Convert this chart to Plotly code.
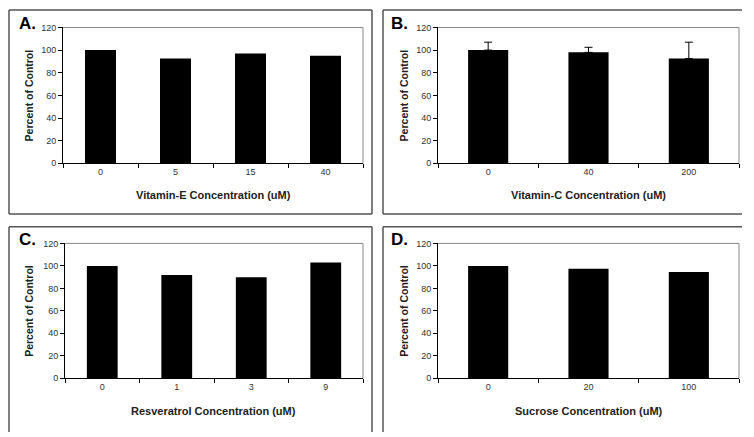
import plotly.graph_objects as go

W, H = 754, 437

# Data
cats_a = ["0", "5", "15", "40"]
vals_a = [100, 92.5, 97, 95]

cats_b = ["0", "40", "200"]
vals_b = [100, 98, 92.5]
err_b = [7, 4.5, 14.5]

cats_c = ["0", "1", "3", "9"]
vals_c = [100, 92, 90, 103]

cats_d = ["0", "20", "100"]
vals_d = [100, 97.5, 94.5]

panel_labels = ["A.", "B.", "C.", "D."]
x_titles = ["Vitamin-E Concentration (uM)", "Vitamin-C Concentration (uM)",
            "Resveratrol Concentration (uM)", "Sucrose Concentration (uM)"]
y_title = "Percent of Control"
y_ticks = [0, 20, 40, 60, 80, 100, 120]

FONT = "Liberation Sans, Arial, sans-serif"

# plot areas in pixels: (x0, x1, ytop, ybottom)
areas = [
    (63, 363, 23, 162),
    (438, 739, 23, 162),
    (65, 363, 244, 382),
    (438, 739, 244, 382),
]
panels = [(cats_a, vals_a, None), (cats_b, vals_b, err_b),
          (cats_c, vals_c, None), (cats_d, vals_d, None)]

fig = go.Figure()
layout = dict(width=W, height=H, margin=dict(l=0, r=0, t=0, b=0),
              paper_bgcolor="white", plot_bgcolor="white", showlegend=False,
              font=dict(family=FONT, color="#222"))

annotations = []
shapes = []

for i, ((cats, vals, err), (x0, x1, yt, yb)) in enumerate(zip(panels, areas)):
    n = i + 1
    xa = "x" if n == 1 else f"x{n}"
    ya = "y" if n == 1 else f"y{n}"
    bw = 40 / 100 if len(cats) == 3 else 31 / 75
    kw = {}
    if err is not None:
        kw["error_y"] = dict(type="data", array=err, arrayminus=[0] * len(err),
                             symmetric=False, color="black", thickness=1, width=4)
    fig.add_trace(go.Bar(x=cats, y=vals, xaxis=xa, yaxis=ya,
                         marker=dict(color="black", line=dict(width=0)),
                         width=bw, **kw))
    xkey = "xaxis" if n == 1 else f"xaxis{n}"
    ykey = "yaxis" if n == 1 else f"yaxis{n}"
    layout[xkey] = dict(domain=[x0 / W, x1 / W], anchor=ya, type="category",
                        showline=True, linecolor="black", linewidth=1,
                        ticks="outside", tickson="boundaries", ticklen=4,
                        tickcolor="black", showgrid=False, zeroline=False,
                        tickfont=dict(size=9, color="#333", family=FONT),
                        range=[-0.5, len(cats) - 0.5], fixedrange=True)
    layout[ykey] = dict(domain=[1 - yb / H, 1 - yt / H], anchor=xa,
                        range=[0, 120], tickvals=y_ticks,
                        showline=True, linecolor="black", linewidth=1,
                        ticks="outside", ticklen=4, tickcolor="black",
                        showgrid=False, zeroline=False,
                        tickfont=dict(size=9, color="#333", family=FONT))
    # plot-area border (top and right) in gray
    shapes.append(dict(type="line", xref=f"{xa} domain", yref=f"{ya} domain",
                       x0=0, x1=1, y0=1, y1=1, line=dict(color="#888", width=1)))
    shapes.append(dict(type="line", xref=f"{xa} domain", yref=f"{ya} domain",
                       x0=1, x1=1, y0=0, y1=1, line=dict(color="#888", width=1)))
    # titles
    left = i % 2 == 0
    ytc = (yt + yb) / 2
    ytitle_x = 29 if left else 404
    annotations.append(dict(text=f"<b>{y_title}</b>", x=ytitle_x / W, y=1 - ytc / H,
                            xref="paper", yref="paper", textangle=-90,
                            showarrow=False, xanchor="center", yanchor="middle",
                            font=dict(size=10.5, color="#222", family=FONT)))
    xt_y = 194 if i < 2 else 416
    annotations.append(dict(text=f"<b>{x_titles[i]}</b>", x=((x0 + x1) / 2) / W,
                            y=1 - xt_y / H, xref="paper", yref="paper",
                            showarrow=False, xanchor="center", yanchor="middle",
                            font=dict(size=11, color="#222", family=FONT)))
    lab_x = 17 if left else 389
    lab_y = 19 if i < 2 else 240
    annotations.append(dict(text=f"<b>{panel_labels[i]}</b>", x=lab_x / W,
                            y=1 - lab_y / H, xref="paper", yref="paper",
                            showarrow=False, xanchor="left", yanchor="middle",
                            font=dict(size=17, color="black", family=FONT)))

# panel frames (paper pixel coords)
def px_line(xa0, ya0, xa1, ya1):
    return dict(type="line", xref="paper", yref="paper",
                x0=xa0 / W, y0=1 - ya0 / H, x1=xa1 / W, y1=1 - ya1 / H,
                line=dict(color="#555", width=1.5))

# Panel A
shapes += [px_line(9, 5, 372, 5), px_line(9, 5, 9, 214), px_line(9, 214, 372, 214),
           px_line(372, 5, 372, 214)]
# Panel B
shapes += [px_line(383, 5, 742, 5), px_line(383, 5, 383, 214), px_line(383, 214, 742, 214)]
# Panel C
shapes += [px_line(9, 227, 372, 227), px_line(9, 227, 9, 437), px_line(372, 227, 372, 437)]
# Panel D
shapes += [px_line(383, 227, 742, 227), px_line(383, 227, 383, 437)]

layout["annotations"] = annotations
layout["shapes"] = shapes
fig.update_layout(**layout)
fig.write_html("out.html", config={"displayModeBar": False, "staticPlot": True},
               post_script="document.body.style.margin='0';document.body.style.overflow='hidden';")
